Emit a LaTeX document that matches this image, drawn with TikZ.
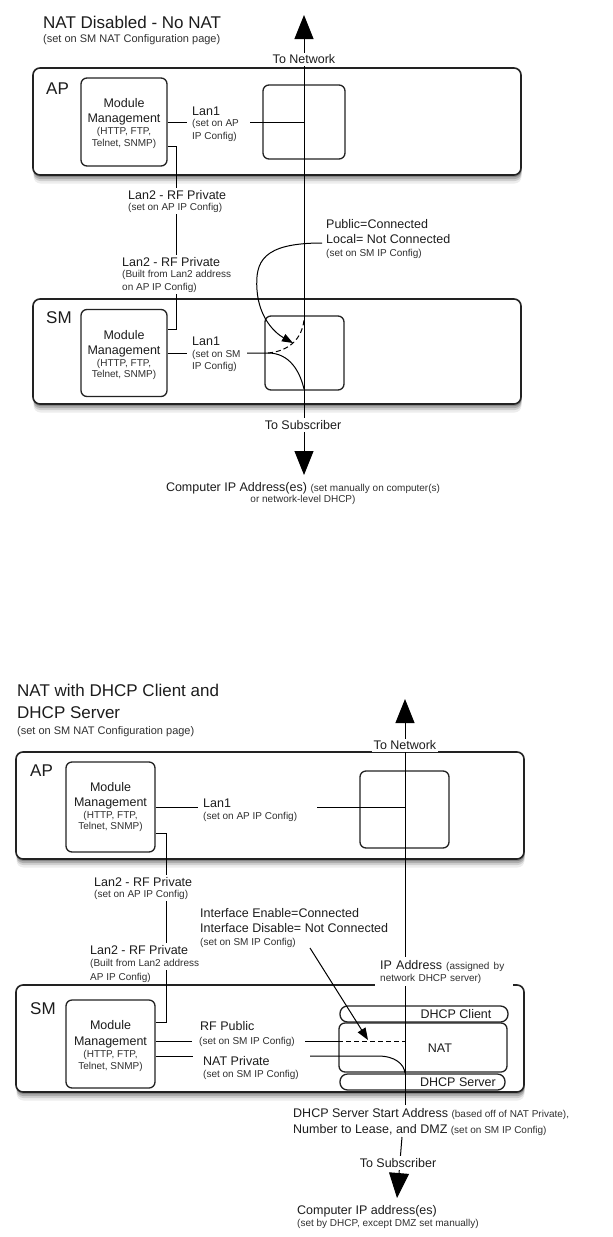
\documentclass[tikz,border=0pt]{standalone}
\usepackage{fontspec}
\setmainfont{Liberation Sans}
\usetikzlibrary{arrows.meta}
\newcommand\fbig{\fontsize{17}{20}\selectfont}
\newcommand\fmed{\fontsize{12.5}{14}\selectfont}
\newcommand\fsml{\fontsize{10}{12}\selectfont}
\newcommand\fsub{\fontsize{11}{13}\selectfont}
\definecolor{ink}{HTML}{1C1C1C}
\definecolor{inksm}{HTML}{303030}
\definecolor{edge}{HTML}{222222}
\begin{document}
\begin{tikzpicture}[x=1pt,y=-1pt,
  tt/.style={inner sep=0pt,text height=12.2pt,text depth=0pt,font=\fbig,text=ink},
  tb/.style={inner sep=0pt,text height=9pt,text depth=0pt,font=\fmed,text=ink},
  ts/.style={inner sep=0pt,text height=7.2pt,text depth=0pt,font=\fsml,text=inksm},
  tsub/.style={inner sep=0pt,text height=7.9pt,text depth=0pt,font=\fsub,text=inksm},
  wbg/.style={fill=white,inner xsep=2pt,inner ysep=3pt},
  outer/.style={draw=edge,line width=1.6pt,rounded corners=7pt,fill=white,
    preaction={fill=black,opacity=.22,transform canvas={xshift=.5pt,yshift=-2pt}},
    preaction={fill=black,opacity=.17,transform canvas={xshift=.5pt,yshift=-4pt}},
    preaction={fill=black,opacity=.12,transform canvas={xshift=.5pt,yshift=-6pt}},
    preaction={fill=black,opacity=.07,transform canvas={xshift=.5pt,yshift=-8.5pt}}},
  box/.style={draw=edge,line width=1.3pt,rounded corners=6pt,inner sep=0pt},
  pill/.style={draw=edge,line width=1.3pt,rounded corners=7.5pt,inner sep=0pt},
  conn/.style={line width=1pt,draw=black},
  bigtip/.style={-{Triangle[length=24pt,width=19pt]}},
  smalltip/.style={-{Triangle[length=11pt,width=8pt]}}
]
\useasboundingbox (0,0) rectangle (613,1237);

%================ TOP DIAGRAM =================
\node[tt,anchor=west] (title1) at (43,22) {NAT Disabled - No NAT};
\node[tsub,anchor=west] (subt1) at (43,39) {(set on SM NAT Configuration page)};

\node[outer,minimum width=488pt,minimum height=107pt] (ap1) at (277,121.5) {};
\node[outer,minimum width=488pt,minimum height=105pt] (sm1) at (277,351.5) {};
\node[tt,anchor=west] (aplab1) at (46,88) {AP};
\node[tt,anchor=west] (smlab1) at (46,317) {SM};

\node[box,minimum width=86pt,minimum height=88pt] (mod1) at (124,122) {};
\node[box,minimum width=86pt,minimum height=87pt] (mod2) at (124,353) {};
\node[box,minimum width=82pt,minimum height=74pt] (in1) at (304,122) {};
\node[box,minimum width=79pt,minimum height=74pt] (in2) at (304.5,353) {};

\node[tb] at (124,103) {Module};
\node[tb] at (124,118) {Management};
\node[ts] at (124,131) {(HTTP, FTP,};
\node[ts] at (124,143) {Telnet, SNMP)};
\node[tb] at (124,335) {Module};
\node[tb] at (124,350) {Management};
\node[ts] at (124,363) {(HTTP, FTP,};
\node[ts] at (124,374) {Telnet, SNMP)};

% main vertical line
\coordinate (nettip1) at (304,15);
\coordinate (subtip1) at (304,475);
\draw[conn,{Triangle[length=24pt,width=19pt]}-{Triangle[length=24pt,width=19pt]}] (nettip1) -- (subtip1);

% Lan1 AP
\coordinate (l1a) at (187,122);
\coordinate (l1b) at (250,122);
\draw[conn] (mod1.east) -- (l1a);
\draw[conn] (l1b) -- (in1.center);
\node[tb,anchor=west] at (192,111) {Lan1};
\node[ts,anchor=west] at (192,123) {(set on AP};
\node[ts,anchor=west] at (192,136) {IP Config)};

% Lan2
\coordinate (c1) at (176,146);
\coordinate (c2) at (176,329);
\draw[conn] (mod1.east |- c1) -- (c1) -- (c2) -- (mod2.east |- c2);

% Lan1 SM with switch
\coordinate (l1c) at (187,353);
\coordinate (l1d) at (247,353);
\coordinate (sw1) at (268,353);
\draw[conn] (mod2.east) -- (l1c);
\draw[conn] (l1d) -- (sw1) .. controls (290,353) and (300,372) .. (304,389);
\draw[conn,dash pattern=on 5pt off 3pt] (sw1) .. controls (290,351) and (302,338) .. (304,320);
\node[tb,anchor=west] at (192,341) {Lan1};
\node[ts,anchor=west] at (192,354) {(set on SM};
\node[ts,anchor=west] at (192,366) {IP Config)};

% Public / Local
\node[tb,anchor=west] (pub1) at (326,224) {Public=Connected};
\node[tb,anchor=west] (loc1) at (326,239) {Local= Not Connected};
\node[ts,anchor=west] at (326,253) {(set on SM IP Config)};
\draw[conn,smalltip] (322,243) .. controls (262,243) and (255,262) .. (257,290)
   .. controls (259,318) and (275,333) .. (293,343);

% labels with white background
\node[tb,wbg,inner ysep=2pt] (tonet1) at (304,59) {To Network};
\node[tb,wbg,inner ysep=2.5pt] (tosub1) at (303,425) {To Subscriber};
\node[tb,anchor=west,wbg] at (126,195) {Lan2 - RF Private};
\node[ts,anchor=west,wbg] at (126,207) {(set on AP IP Config)};
\node[tb,anchor=west,wbg] at (120,262) {Lan2 - RF Private};
\node[ts,anchor=west,wbg] at (120,274) {(Built from Lan2 address};
\node[ts,anchor=west,wbg] at (120,287) {on AP IP Config)};

\node[tb] (comp1) at (303,487) {Computer IP Address(es) {\fsml\color{inksm}(set manually on computer(s)}};
\node[ts] at (303,499) {or network-level DHCP)};

%================ BOTTOM DIAGRAM =================
\node[tt,anchor=west] (title2) at (17,690) {NAT with DHCP Client and};
\node[tt,anchor=west] at (17,712) {DHCP Server};
\node[tsub,anchor=west] at (17,731) {(set on SM NAT Configuration page)};

\node[outer,minimum width=508pt,minimum height=107pt] (ap2) at (270,805.5) {};
\node[outer,minimum width=508pt,minimum height=107pt] (sm2) at (270,1038.5) {};
\node[tt,anchor=west] at (30,770) {AP};
\node[tt,anchor=west] at (30,1008) {SM};

\node[box,minimum width=89pt,minimum height=90pt] (mod3) at (110.5,807) {};
\node[box,minimum width=89pt,minimum height=88pt] (mod4) at (110.5,1044) {};
\node[box,minimum width=89pt,minimum height=77pt] (in3) at (404.5,809.5) {};
\node[pill,minimum width=168pt,minimum height=16pt] (dhcpc) at (424,1014) {};
\node[box,minimum width=168pt,minimum height=49pt] (nat) at (423,1047.5) {};
\node[pill,minimum width=165pt,minimum height=16pt] (dhcps) at (422.5,1082) {};
\node[tb] at (456,1014) {DHCP Client};
\node[tb] at (440,1048) {NAT};
\node[tb] at (458,1082) {DHCP Server};

\node[tb] at (110.5,787) {Module};
\node[tb] at (110.5,802) {Management};
\node[ts] at (110.5,815) {(HTTP, FTP,};
\node[ts] at (110.5,826) {Telnet, SNMP)};
\node[tb] at (110.5,1025) {Module};
\node[tb] at (110.5,1041) {Management};
\node[ts] at (110.5,1054) {(HTTP, FTP,};
\node[ts] at (110.5,1066) {Telnet, SNMP)};

% main vertical line
\coordinate (nettip2) at (405,699);
\coordinate (dsa) at (405,1105);
\draw[conn,bigtip] (dsa) -- (nettip2);

% Lan1 AP
\coordinate (l2a) at (198,807);
\coordinate (l2b) at (317,807);
\draw[conn] (mod3.east) -- (l2a);
\draw[conn] (l2b) -- (405,807);
\node[tb,anchor=west] at (203,803) {Lan1};
\node[ts,anchor=west] at (203,816) {(set on AP IP Config)};

% Lan2
\coordinate (c3) at (166,833);
\coordinate (c4) at (166,1022);
\draw[conn] (mod3.east |- c3) -- (c3) -- (c4) -- (mod4.east |- c4);
\node[tb,anchor=west,wbg] at (92,882) {Lan2 - RF Private};
\node[ts,anchor=west,wbg] at (92,894) {(set on AP IP Config)};
\node[tb,anchor=west,wbg] at (88,950) {Lan2 - RF Private};
\node[ts,anchor=west,wbg] at (88,963) {(Built from Lan2 address};
\node[ts,anchor=west,wbg] at (88,977) {AP IP Config)};

% Interface text and arrow
\node[tb,anchor=west] (ien) at (200,913) {Interface Enable=Connected};
\node[tb,anchor=west] (idis) at (200,928) {Interface Disable= Not Connected};
\node[ts,anchor=west] (iset) at (200,942) {(set on SM IP Config)};
\draw[conn,-{Triangle[length=12pt,width=9pt]}] (310,948) -- (368,1040);

% IP Address label (white background over line and box edge)
\node[ts,anchor=west,fill=white,inner xsep=5pt,inner ysep=4.5pt,text width=128pt,align=left] at (375,978) {network DHCP server)};
\node[tb,anchor=west,fill=white,inner xsep=5pt,inner ysep=3.6pt,text width=128pt,align=left] (ipa) at (375,965) {IP Address {\fsml\color{inksm}(assigned by}};

% RF Public
\coordinate (rp1) at (192,1041);
\coordinate (rp2) at (305,1041);
\draw[conn] (mod4.east |- rp1) -- (rp1);
\draw[conn] (rp2) -- (nat.west |- rp2);
\draw[conn,dash pattern=on 5pt off 3pt] (nat.west |- rp2) -- (405,1041);
\node[tb,anchor=west] at (200,1026) {RF Public};
\node[ts,anchor=west] at (199,1041) {(set on SM IP Config)};

% NAT Private
\coordinate (np1) at (193,1056);
\coordinate (np2) at (310,1056);
\draw[conn] (mod4.east |- np1) -- (np1);
\draw[conn] (np2) -- (378,1056) .. controls (395,1056) and (404,1064) .. (405,1073);
\node[tb,anchor=west] at (203,1061) {NAT Private};
\node[ts,anchor=west] at (203,1074) {(set on SM IP Config)};

% below SM
\node[tb,anchor=west] (dsa1) at (293,1113) {DHCP Server Start Address {\fsml\color{inksm}(based off of NAT Private),}};
\node[tb,anchor=west] (dsa2) at (293,1129) {Number to Lease, and DMZ {\fsml\color{inksm}(set on SM IP Config)}};
\coordinate (st2) at (402,1137);
\coordinate (subtip2) at (397,1198);
\draw[conn,-{Triangle[length=25pt,width=20pt]}] (st2) -- (subtip2);
\node[tb,wbg,inner ysep=2.5pt] (tosub2) at (398,1163) {To Subscriber};
\node[tb,wbg,inner ysep=2pt] (tonet2) at (405,745) {To Network};
\node[tb,anchor=west] (comp2) at (297,1210) {Computer IP address(es)};
\node[ts,anchor=west] at (297,1223) {(set by DHCP, except DMZ set manually)};
\end{tikzpicture}
\end{document}
